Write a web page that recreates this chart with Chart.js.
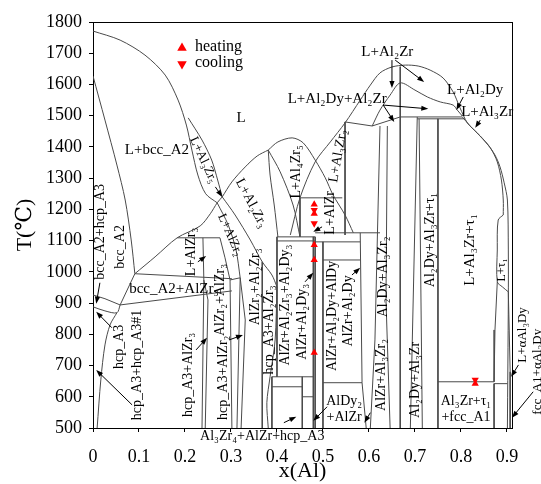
<!DOCTYPE html>
<html><head><meta charset="utf-8">
<script src="https://cdn.jsdelivr.net/npm/chart.js@4.4.1/dist/chart.umd.min.js"></script>
<style>html,body{margin:0;padding:0;background:#fff}#wrap{width:541px;height:484px;position:relative}</style>
</head><body><div id="wrap"><canvas id="c"></canvas></div>
<script>
// ---------- tick labels ----------
const xTicks = [0, 0.1, 0.2, 0.3, 0.4, 0.5, 0.6, 0.7, 0.8, 0.9];
const yTicks = [500, 600, 700, 800, 900, 1000, 1100, 1200, 1300, 1400, 1500, 1600, 1700, 1800];

// ---------- phase boundaries [x(Al), T(°C)] ----------
const liqBcc = [[0,1771],[0.059,1742],[0.113,1694],[0.157,1630],[0.185,1550],[0.203,1470],[0.215,1390],[0.228,1310],[0.245,1250],[0.270,1221]];
const liqAl3Zr5 = [[0.207,1493],[0.237,1422],[0.258,1358],[0.271,1294],[0.281,1240]];
const solBcc = [[0,1627],[0.026,1486],[0.052,1342],[0.070,1230],[0.083,1102],[0.091,994]];
const liqAlZr3 = [[0.091,994],[0.135,1048],[0.183,1109],[0.233,1147],[0.255,1186],[0.270,1221],[0.281,1240]];
const iso1110 = [[0.183,1109],[0.276,1109]];
const bccAlZr3Top = [[0.091,994],[0.302,978]];
const bccHcp = [[0,926],[0.026,914],[0.059,894]];
const bccAlZr3Bot = [[0.059,894],[0.302,939]];
const bccDiag = [[0.091,994],[0.059,894]];
const hcpTop = [[0,888],[0.026,875],[0.052,869],[0.059,894]];
const hcpSolvus = [[0.052,869],[0.037,830],[0.026,766],[0.017,654],[0.009,500]];
const vAlZr3a = [[0.239,1109],[0.241,974],[0.237,500]];
const vAlZr3b = [[0.241,974],[0.250,910],[0.244,500]];
const bandL = [[0.270,1221],[0.294,1150],[0.311,1070],[0.320,981]];
const bandM = [[0.276,1109],[0.287,1045],[0.298,974]];
const step974 = [[0.298,974],[0.320,981]];
const vAlZr2a = [[0.298,974],[0.302,500]];
const vAlZr2b = [[0.320,981],[0.313,500]];
const vAlZr2c = [[0.320,981],[0.331,846],[0.322,500]];
const domeAl2Zr3 = [[0.281,1240],[0.302,1288],[0.331,1336],[0.357,1371],[0.381,1390]];
const bandR = [[0.281,1240],[0.309,1182],[0.342,1102],[0.368,1032],[0.389,990],[0.400,952]];
const vAl2Zr3 = [[0.368,1032],[0.368,500]];
const hcpAl2Zr3 = [[0.400,952],[0.396,782],[0.385,664],[0.378,581],[0.381,500]];
const al2zr3A = [[0.381,1390],[0.385,1310],[0.394,1214],[0.402,1112]];
const al2zr3B = [[0.381,1390],[0.407,1320],[0.435,1214],[0.450,1112]];
const domeAl4Zr5 = [[0.381,1390],[0.402,1416],[0.433,1429],[0.457,1413],[0.483,1358],[0.505,1301],[0.522,1246],[0.548,1182],[0.566,1125]];
const liqOuter = [[0.429,1118],[0.450,1237],[0.483,1352],[0.516,1416],[0.548,1477],[0.581,1550],[0.603,1598],[0.624,1637],[0.650,1656],[0.679,1662],[0.707,1659],[0.733,1646],[0.761,1621],[0.783,1576],[0.798,1525],[0.814,1477],[0.835,1445],[0.859,1406],[0.874,1374],[0.885,1336],[0.894,1285],[0.901,1230],[0.903,1070],[0.903,910],[0.901,500]];
const liqInner = [[0.607,1467],[0.624,1518],[0.646,1566],[0.668,1605],[0.700,1582],[0.727,1560],[0.755,1544],[0.783,1534],[0.792,1518],[0.803,1499]];
const v548 = [[0.548,1480],[0.548,1118]];
const iso1470 = [[0.548,1480],[0.607,1467]];
const iso1470b = [[0.607,1467],[0.668,1496]];
const vAl2Zr = [[0.668,1657],[0.668,500]];
const iso1496 = [[0.668,1496],[0.803,1496]];
const iso1490 = [[0.705,1490],[0.808,1490]];
const v705 = [[0.705,1496],[0.690,500]];
const v709 = [[0.709,1490],[0.716,500]];
const vAl3Zr = [[0.750,1490],[0.750,500]];
const liqAl3Zr = [[0.803,1496],[0.820,1467],[0.842,1435],[0.864,1397],[0.879,1352],[0.888,1294],[0.892,1230],[0.892,1182]];
const tau1L = [[0.892,1182],[0.881,1166],[0.879,1070],[0.879,968],[0.890,952],[0.903,936]];
const tau1Low = [[0.879,968],[0.874,814],[0.872,648]];
const iso648 = [[0.750,648],[0.872,648]];
const iso642 = [[0.872,642],[0.901,642]];
const v872 = [[0.872,642],[0.872,500]];
const rightThin = [[0.903,936],[0.907,680],[0.907,500]];
const v360 = [[0.581,1125],[0.585,645],[0.594,500]];
const v380 = [[0.624,1467],[0.613,782],[0.603,500]];
const v387 = [[0.640,1467],[0.637,910],[0.646,500]];
const v479 = [[0.479,1112],[0.479,500]];
const v483 = [[0.483,1112],[0.483,500]];
const v500 = [[0.500,1096],[0.500,500]];
const v450 = [[0.450,1237],[0.450,1112]];
const iso1237 = [[0.450,1237],[0.542,1237]];
const iso1112 = [[0.400,1112],[0.483,1112]];
const iso1099 = [[0.400,1099],[0.483,1099]];
const iso1125 = [[0.483,1125],[0.624,1125]];
const iso1096 = [[0.483,1096],[0.581,1096]];
const iso1038 = [[0.500,1038],[0.581,1038]];
const v400 = [[0.400,1112],[0.400,664]];
const iso664 = [[0.389,664],[0.479,664]];
const iso632 = [[0.389,632],[0.455,632]];
const v455 = [[0.455,664],[0.455,500]];
const iso600 = [[0.455,600],[0.479,600]];
const v389 = [[0.389,664],[0.389,500]];
const iso645 = [[0.500,645],[0.585,645]];

const boundaries = [liqBcc, liqAl3Zr5, solBcc, liqAlZr3, iso1110, bccAlZr3Top, bccHcp, bccAlZr3Bot, bccDiag,
  hcpTop, hcpSolvus, vAlZr3a, vAlZr3b, bandL, bandM, step974, vAlZr2a, vAlZr2b, vAlZr2c, domeAl2Zr3, bandR,
  vAl2Zr3, hcpAl2Zr3, al2zr3A, al2zr3B, domeAl4Zr5, liqOuter, liqInner, v548, iso1470, iso1470b, vAl2Zr,
  iso1496, iso1490, v705, v709, vAl3Zr, liqAl3Zr, tau1L, tau1Low, iso648, iso642, v872, rightThin, v360,
  v380, v387, v479, v483, v500, v450, iso1237, iso1112, iso1099, iso1125, iso1096, iso1038, v400, iso664,
  iso632, v455, iso600, v389, iso645];

// ---------- experimental points ----------
const heatingX = [0.481, 0.481, 0.481, 0.481, 0.481, 0.831];
const heatingT = [1216, 1186, 1086, 1038, 741, 642];
const coolingX = [0.481, 0.481, 0.831];
const coolingT = [1198, 1155, 654];

// ---------- region labels: text, x, T, rotation(deg), font size ----------
const regionLabels = [
 ["L+bcc_A2",0.139,1390,0,15], ["L",0.322,1493,0,15],
 ["bcc_A2",0.059,1080,-90,14], ["bcc_A2+hcp_A3",0.017,1128,-90,14],
 ["bcc_A2+AlZr₃",0.176,946,0,15], ["hcp_A3",0.057,760,-90,14],
 ["hcp_A3+hcp_A3#1",0.096,702,-90,14], ["hcp_A3+AlZr₃",0.207,670,-90,14],
 ["L+AlZr₃",0.213,1064,-90,14], ["AlZr₂+AlZr₃",0.276,910,-90,14],
 ["hcp_A3+AlZr₂",0.283,661,-90,14], ["L+AlZr₂",0.298,1118,66,13],
 ["L+Al₃Zr₅",0.240,1358,65,13], ["L+Al₂Zr₃",0.344,1220,62,14],
 ["L+Al₄Zr₅",0.441,1320,-90,14], ["L+Al₃Zr₂",0.533,1371,-80,14],
 ["L+AlZr",0.516,1189,-90,14], ["L+Al₂Dy+Al₂Zr",0.531,1554,0,15],
 ["L+Al₂Zr",0.640,1704,0,15], ["L+Al₂Dy",0.831,1582,0,15],
 ["L+Al₃Zr",0.857,1512,0,15], ["L+Al₃Zr+τ₁",0.820,1070,-90,15],
 ["Al₂Dy+Al₃Zr+τ₁",0.733,1102,-90,14], ["Al₂Dy+Al₃Zr₂",0.631,984,-90,14],
 ["L+τ₁",0.890,1006,-90,12], ["L+αAl₃Dy",0.935,798,-90,13],
 ["fcc_A1+αAl₃Dy",0.966,680,-90,13], ["Al₃Zr+τ₁",0.811,584,0,14],
 ["+fcc_A1",0.811,533,0,14], ["AlDy₂",0.546,584,0,14], ["+AlZr",0.546,533,0,14],
 ["AlZr+Al₃Zr₂",0.627,670,-90,14], ["Al₂Dy+Al₃Zr",0.700,654,-90,14],
 ["AlZr+Al₂Dy+AlDy",0.520,859,-90,14], ["AlZr+Al₂Dy",0.555,875,-90,14],
 ["AlZr+Al₂Zr₃+Al₂Dy₃",0.418,894,-90,14], ["AlZr+Al₂Dy₃",0.455,840,-90,14],
 ["Al₃Zr₄+AlZr+hcp_A3",0.368,472,0,14], ["hcp_A3+Al₂Zr₃",0.383,814,-90,14],
 ["AlZr₂+Al₂Zr₃",0.352,952,-90,14]
];
// ---------- label arrows: x1, T1 -> x2, T2 ----------
const labelArrows = [
 [0.015,965,0.007,898],[0.041,821,0.007,872],[0.085,574,0.007,686],[0.224,750,0.248,789],
 [0.228,1032,0.246,1051],[0.296,782,0.326,798],[0.266,1272,0.281,1240],[0.498,1144,0.479,1128],
 [0.631,1534,0.729,1522],[0.631,1534,0.655,1480],[0.650,1678,0.650,1589],[0.657,1678,0.720,1608],
 [0.805,1560,0.790,1518],[0.842,1486,0.831,1461],[0.925,702,0.909,664],[0.957,616,0.911,533],
 [0.509,568,0.479,523],[0.603,549,0.590,517],[0.563,990,0.581,1013],[0.461,968,0.479,997],
 [0.415,517,0.442,536]
];

const FONT = "'Liberation Serif','DejaVu Serif',serif";
const toPts = a => a.map(p => ({x:p[0], y:p[1]}));
const datasets = boundaries.map(b => ({
  data: toPts(b), showLine: true, pointRadius: 0, borderColor: '#4a4a4a', borderWidth: 1,
  tension: b.length > 3 ? 0.3 : 0, fill: false, order: 2
}));
datasets.push({label:'heating', data: heatingX.map((x,i)=>({x, y: heatingT[i]})), pointStyle:'triangle',
  pointRadius:4.2, backgroundColor:'#ff0000', borderColor:'#ff0000', borderWidth:0, showLine:false, order:1});
datasets.push({label:'cooling', data: coolingX.map((x,i)=>({x, y: coolingT[i]})), pointStyle:'triangle', rotation:180,
  pointRadius:4.2, backgroundColor:'#ff0000', borderColor:'#ff0000', borderWidth:0, showLine:false, order:1});

function tri(ctx, x, y, r, down){
  ctx.beginPath();
  const s = down ? -1 : 1;
  ctx.moveTo(x, y - s*r);
  ctx.lineTo(x + r*0.866, y + s*r*0.5);
  ctx.lineTo(x - r*0.866, y + s*r*0.5);
  ctx.closePath(); ctx.fill();
}

const deco = {
  id: 'deco',
  afterDraw(chart){
    const {ctx, chartArea:a, scales:{x, y}} = chart;
    ctx.save();
    ctx.strokeStyle = '#000'; ctx.lineWidth = 1;
    ctx.beginPath();
    ctx.moveTo(a.left, Math.round(a.top)+0.5); ctx.lineTo(a.right+0.5, Math.round(a.top)+0.5);
    ctx.moveTo(Math.round(a.right)+0.5, a.top); ctx.lineTo(Math.round(a.right)+0.5, a.bottom);
    ctx.stroke();
    // labels
    ctx.fillStyle = '#000'; ctx.textAlign = 'center'; ctx.textBaseline = 'middle';
    regionLabels.forEach(([t, xv, tv, rot, sz]) => {
      ctx.save();
      ctx.translate(x.getPixelForValue(xv), y.getPixelForValue(tv));
      ctx.rotate(rot*Math.PI/180);
      ctx.font = sz + 'px ' + FONT;
      ctx.fillText(t, 0, 0);
      ctx.restore();
    });
    // arrows
    ctx.strokeStyle = '#000'; ctx.fillStyle = '#000'; ctx.lineWidth = 1;
    labelArrows.forEach(([x1,t1,x2,t2]) => {
      const X1 = x.getPixelForValue(x1), Y1 = y.getPixelForValue(t1);
      const X2 = x.getPixelForValue(x2), Y2 = y.getPixelForValue(t2);
      const ang = Math.atan2(Y2-Y1, X2-X1), L = 7, W = 2.6;
      ctx.beginPath(); ctx.moveTo(X1,Y1); ctx.lineTo(X2 - Math.cos(ang)*L*0.8, Y2 - Math.sin(ang)*L*0.8); ctx.stroke();
      ctx.beginPath(); ctx.moveTo(X2,Y2);
      ctx.lineTo(X2 - Math.cos(ang)*L - Math.sin(ang)*W, Y2 - Math.sin(ang)*L + Math.cos(ang)*W);
      ctx.lineTo(X2 - Math.cos(ang)*L + Math.sin(ang)*W, Y2 - Math.sin(ang)*L - Math.cos(ang)*W);
      ctx.closePath(); ctx.fill();
    });
    // legend
    const lx = a.left + 89, ly = a.top + 25;
    ctx.fillStyle = '#ff0000';
    tri(ctx, lx, ly+1, 5.5, false);
    tri(ctx, lx, ly+17, 5.5, true);
    ctx.fillStyle = '#000'; ctx.textAlign = 'left'; ctx.font = '16px ' + FONT;
    ctx.fillText('heating', lx + 13, ly);
    ctx.fillText('cooling', lx + 13, ly + 16);
    ctx.restore();
  }
};

new Chart(document.getElementById('c'), {
  type: 'scatter',
  data: { datasets },
  options: {
    responsive: true, maintainAspectRatio: false, animation: false, devicePixelRatio: 1,
    layout: { padding: { left: 0, right: 29, top: 22, bottom: 0 } },
    plugins: { legend: { display: false }, tooltip: { enabled: false } },
    scales: {
      x: {
        type: 'linear', min: 0, max: 0.911,
        afterBuildTicks: s => { s.ticks = xTicks.map(v => ({value: v})); },
        afterFit: s => { s.height = 56; },
        ticks: { callback: v => String(v), font: { family: FONT, size: 18 }, color: '#000', padding: 14, maxRotation: 0 },
        grid: { display: true, drawOnChartArea: false, drawTicks: true, tickLength: 4, color: '#000' },
        border: { display: true, color: '#000', width: 1 },
        title: { display: true, text: 'x(Al)', font: { family: FONT, size: 22 }, color: '#000', padding: { top: 0, bottom: 0 } }
      },
      y: {
        type: 'linear', min: 500, max: 1800,
        afterBuildTicks: s => { s.ticks = yTicks.map(v => ({value: v})); },
        afterFit: s => { s.width = 93; },
        ticks: { callback: v => String(v), font: { family: FONT, size: 18 }, color: '#000', padding: 7 },
        grid: { display: true, drawOnChartArea: false, drawTicks: true, tickLength: 4, color: '#000' },
        border: { display: true, color: '#000', width: 1 },
        title: { display: true, text: 'T(℃)', font: { family: FONT, size: 22 }, color: '#000', padding: { top: 12, bottom: 0 } }
      }
    }
  },
  plugins: [deco]
});
</script></body></html>
